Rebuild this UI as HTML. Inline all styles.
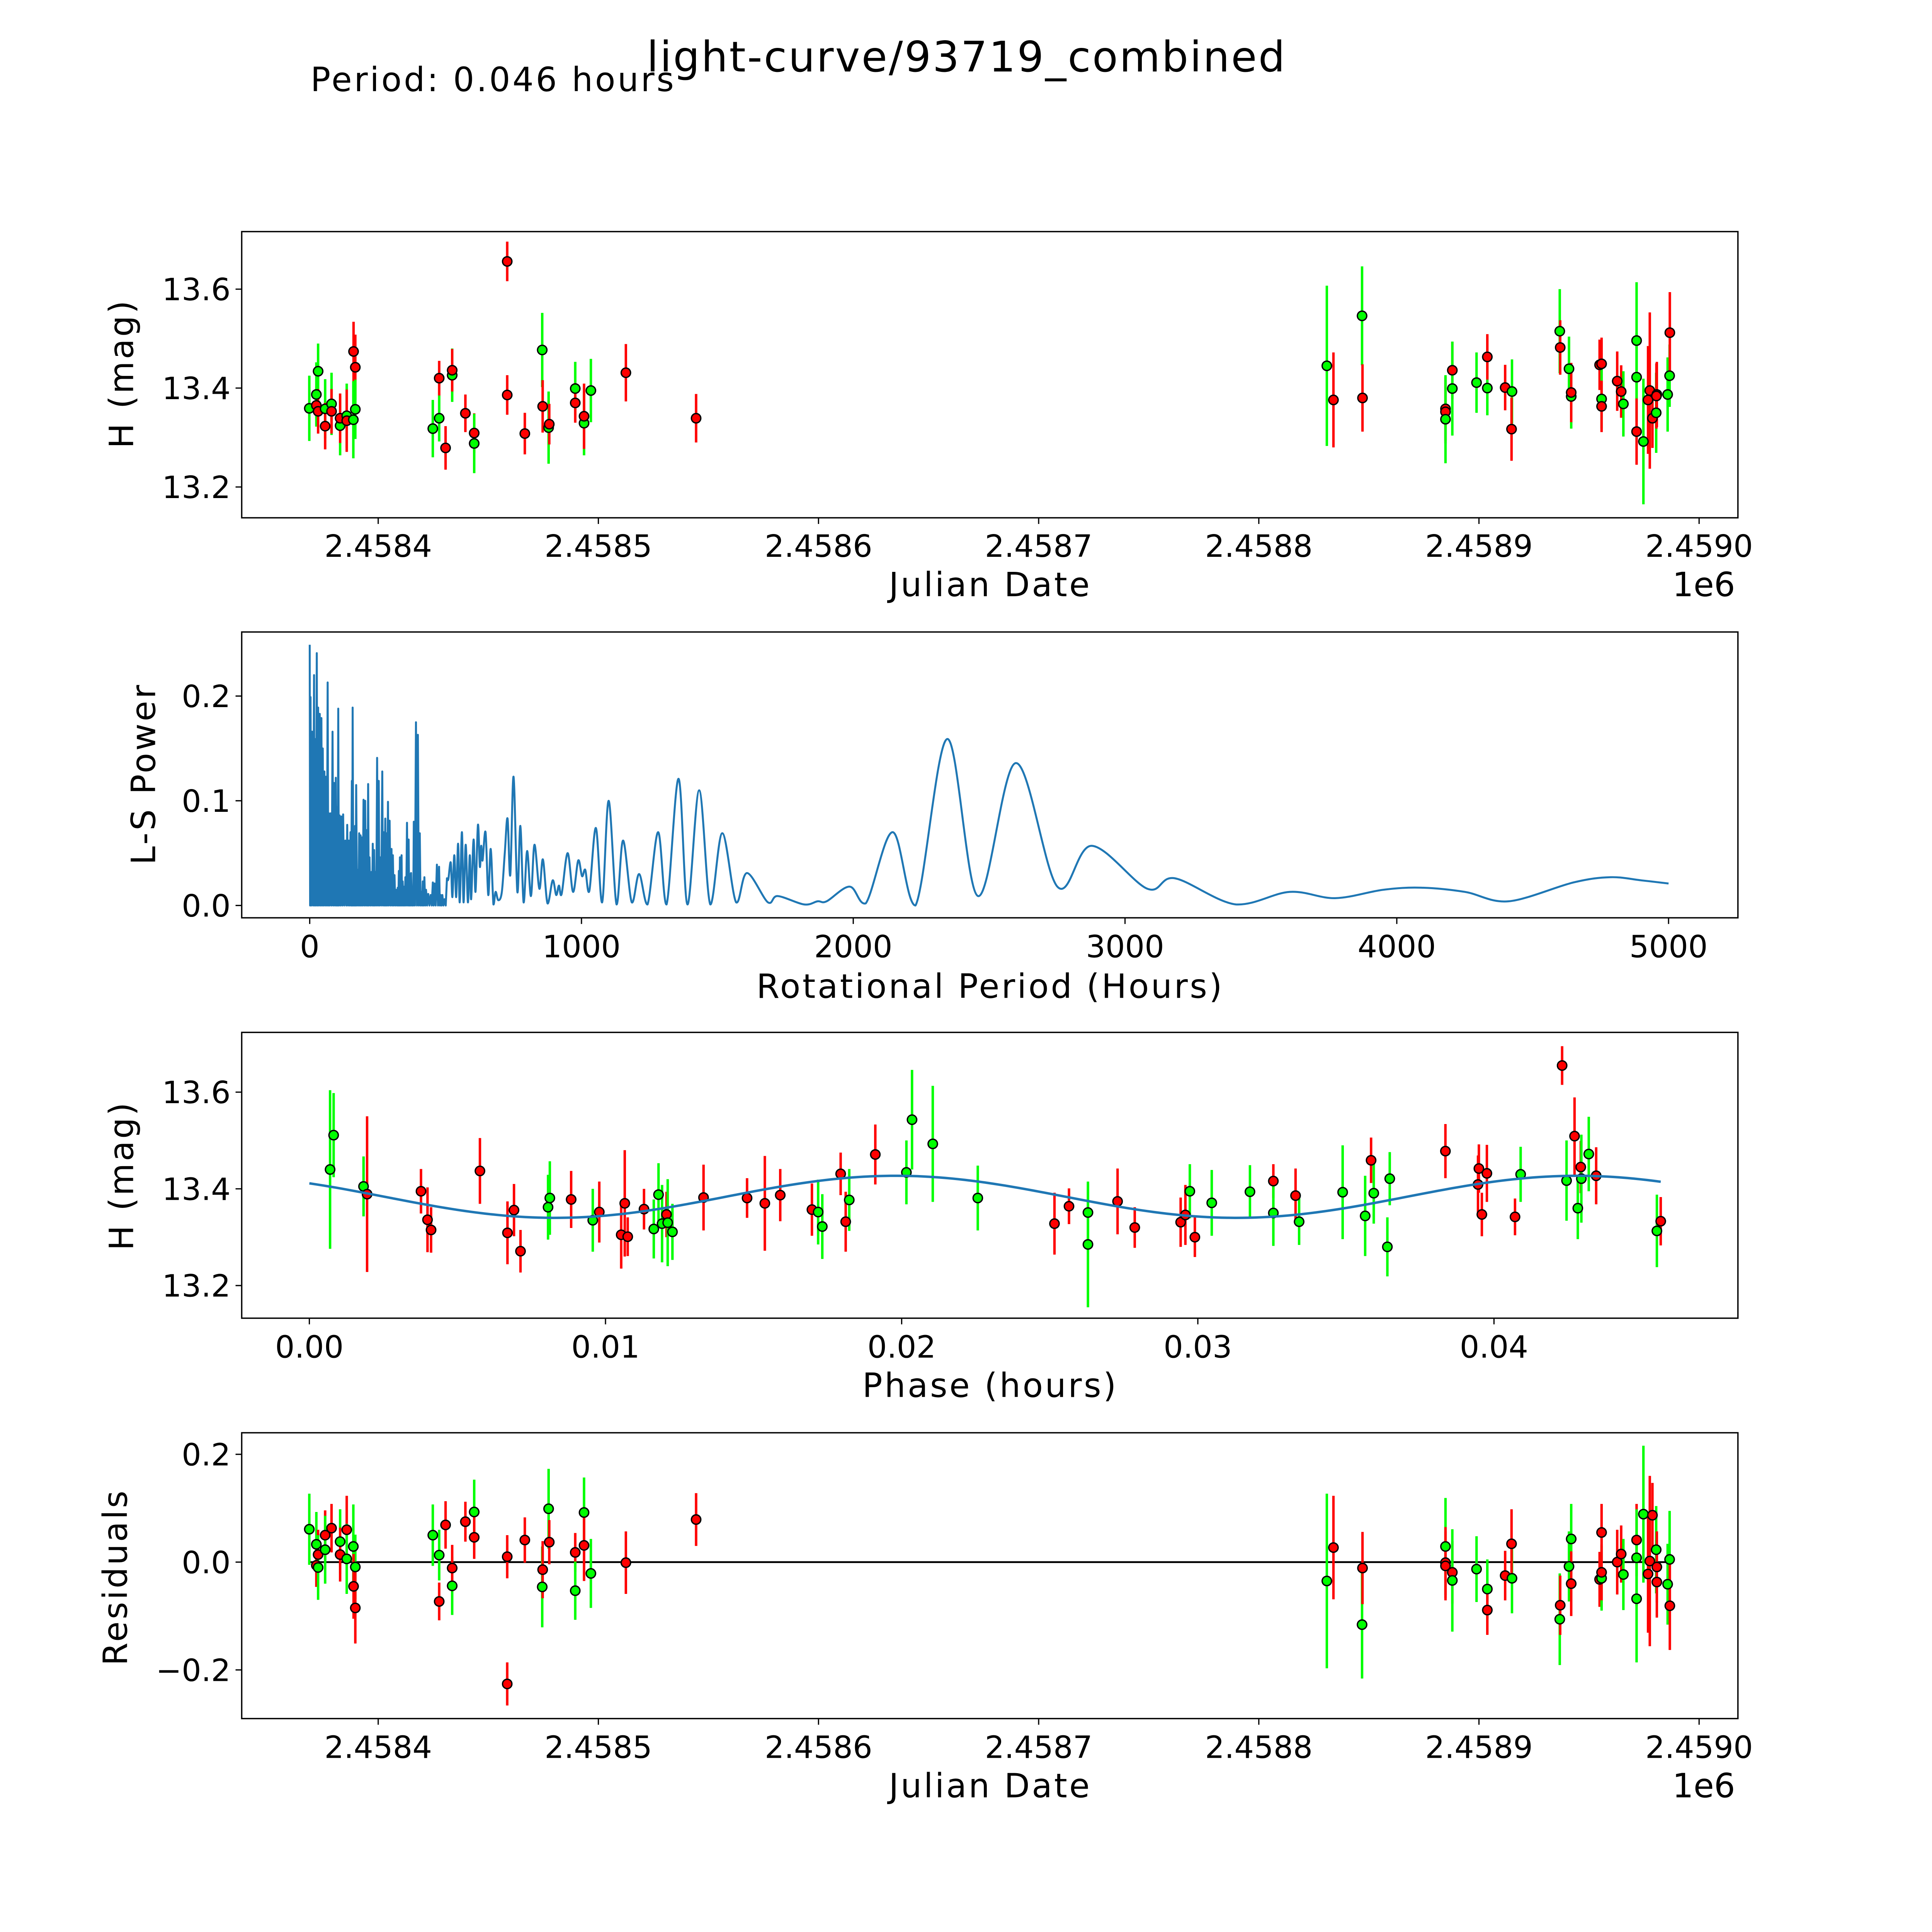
<!DOCTYPE html>
<html><head><meta charset="utf-8"><title>light-curve/93719_combined</title>
<style>html,body{margin:0;padding:0;background:#fff;overflow:hidden;width:5400px;height:5400px;}svg{display:block;overflow:hidden;}text{font-family:"DejaVu Sans","Liberation Sans",sans-serif;fill:#000;}</style>
</head><body>
<svg id="fig" xmlns="http://www.w3.org/2000/svg" width="5400" height="5400" viewBox="0 0 1693.7 1693.7">
<rect x="0" y="0" width="1693.7" height="1693.7" fill="#fff"/>
<text x="784" y="58" font-size="34" text-anchor="middle" textLength="518">light-curve/93719_combined</text>
<text x="252" y="74" font-size="27" textLength="295">Period: 0.046 hours</text>
</svg>
<script>
// ---------- Panel 1: magnitude vs Julian Date (t = JD - 2458400) ----------
const p1T=[-31.3,-28.1,-28.1,-27.3,-27.3,-24.1,-24.1,-21.2,-21.2,-17.3,-17.3,-14.3,-14.3,-11.2,-10.4,-10.4,-11.3,24.8,27.7,27.7,30.6,33.6,33.6,39.6,43.6,43.6,58.6,58.6,66.6,74.5,74.7,77.4,77.7,89.5,89.5,93.5,93.5,96.6,112.5,144.4,
430.9,433.9,446.9,447.1,484.8,484.8,484.8,487.9,487.9,498.9,503.8,503.8,511.9,515.0,514.8,536.7,536.9,540.9,541.9,541.9,554.8,555.7,555.7,555.7,562.8,564.6,565.6,571.6,571.6,571.6,574.7,576.8,577.6,578.8,580.5,580.8,580.6,585.7,586.6,586.7];
const p1Mag=[13.359,13.365,13.387,13.434,13.353,13.358,13.323,13.368,13.353,13.324,13.339,13.344,13.334,13.474,13.442,13.357,13.336,13.318,13.339,13.420,13.279,13.426,13.436,13.349,13.309,13.288,13.656,13.386,13.308,13.477,13.363,13.320,13.327,13.399,13.370,13.329,13.343,13.395,13.431,13.339,
13.445,13.376,13.546,13.380,13.358,13.352,13.337,13.436,13.399,13.411,13.400,13.463,13.401,13.393,13.317,13.515,13.482,13.439,13.383,13.391,13.447,13.449,13.378,13.363,13.414,13.393,13.368,13.496,13.422,13.312,13.292,13.376,13.395,13.339,13.350,13.387,13.384,13.387,13.425,13.512];
const p1Err=[0.066,0.042,0.065,0.056,0.045,0.06,0.047,0.063,0.045,0.06,0.05,0.065,0.063,0.06,0.066,0.06,0.078,0.058,0.047,0.035,0.044,0.054,0.043,0.038,0.04,0.06,0.04,0.04,0.042,0.075,0.053,0.073,0.041,0.054,0.04,0.065,0.066,0.064,0.058,0.049,
0.162,0.096,0.10,0.068,0.064,0.064,0.089,0.058,0.095,0.061,0.055,0.046,0.046,0.065,0.064,0.085,0.055,0.065,0.065,0.06,0.051,0.053,0.06,0.052,0.06,0.053,0.066,0.118,0.09,0.067,0.127,0.109,0.158,0.06,0.081,0.066,0.066,0.075,0.063,0.082];
const p1Col=["g","r","g","g","r","g","r","g","r","g","r","g","r","r","r","g","g","g","g","r","r","g","r","r","r","g","r","r","r","g","r","g","r","g","r","g","r","g","r","r",
"g","r","g","r","r","r","g","r","g","g","g","r","r","g","r","g","r","g","g","r","r","r","g","r","r","r","g","g","g","r","g","r","r","r","g","r","r","g","g","r"];
const jdTicks=[2458400,2458500,2458600,2458700,2458800,2458900,2459000];
const jdTickLabels=["2.4584","2.4585","2.4586","2.4587","2.4588","2.4589","2.4590"];
const magTicks=[13.2,13.4,13.6];
const magTickLabels=["13.2","13.4","13.6"];

// ---------- Panel 2: Lomb-Scargle periodogram ----------
const pgSpikePeriod=[0,3,9,16,20,26,31,37,43,48,54,60,66,71,77,84,90,96,101,105,110,117,123,131,138,144,150,155,158,163,167,171,177,182,187,192,198,204,210,215,220,227,232,237,242,248,254,259,267,272,278,282,288,294,301,306,312,318,324,328,332,338,342,348,352,358,364,368,373,379,383,391,398,405,411,416,422,428,436,445,453,459,468,476,482,488,496];
const pgSpikePower=[0.249,0.199,0.166,0.220,0.159,0.241,0.189,0.183,0.179,0.150,0.128,0.123,0.213,0.088,0.088,0.166,0.117,0.122,0.094,0.188,0.086,0.085,0.087,0.062,0.077,0.062,0.070,0.119,0.189,0.062,0.076,0.115,0.034,0.069,0.067,0.065,0.101,0.100,0.072,0.116,0.046,0.032,0.059,0.053,0.032,0.141,0.119,0.046,0.128,0.070,0.083,0.069,0.099,0.081,0.054,0.048,0.029,0.015,0.017,0.033,0.046,0.048,0.023,0.018,0.027,0.079,0.063,0.030,0.031,0.006,0.080,0.175,0.163,0.069,0.013,0.023,0.027,0.015,0.011,0.010,0.022,0.021,0.039,0.037,0.010,0.010,0.006];
const pgPeriod=[505,510,519,525,532,539,546,552,560,566,574,582,589,594,603,610,619,626,631,636,647,657,666,676,684,694,707,718,728,738,750,764,775,787,800,814,827,845,858,875,894,907,917,927,949,969,988,1002,1014,1029,1053,1076,1100,1129,1153,1185,1212,1243,1282,1313,1357,1390,1433,1474,1518,1569,1609,1686,1722,1819,1869,1902,1987,2046,2145,2229,2346,2459,2598,2751,2877,3082,3183,3408,3606,3773,3950,4089,4250,4411,4650,4787,4900,5000];
const pgPower=[0.026,0.025,0.041,0.008,0.048,0.008,0.059,0.003,0.070,0.003,0.058,0.003,0.048,0.006,0.063,0.013,0.077,0.037,0.057,0.043,0.070,0.010,0.054,0.001,0.013,0.005,0.013,0.051,0.083,0.029,0.123,0.013,0.076,0.003,0.052,0.009,0.058,0.016,0.044,0.002,0.024,0.010,0.019,0.011,0.050,0.013,0.043,0.028,0.034,0.014,0.074,0.003,0.100,0.001,0.062,0.003,0.030,0.001,0.070,0.001,0.121,0.001,0.110,0.001,0.069,0.003,0.031,0.003,0.009,0.001,0.004,0.004,0.018,0.002,0.070,0.000,0.159,0.009,0.136,0.018,0.057,0.016,0.026,0.001,0.013,0.007,0.015,0.017,0.013,0.004,0.022,0.027,0.024,0.021];
const pgXTicks=[0,1000,2000,3000,4000,5000];
const pgYTicks=[0.0,0.1,0.2];
const pgYTickLabels=["0.0","0.1","0.2"];

// ---------- Panel 3: phased light curve ----------
const phPhase=[0.00070,0.00082,0.00183,0.00195,0.00377,0.00399,0.00411,0.00576,0.00669,0.00691,0.00713,0.00806,0.00812,0.00884,0.00957,0.00979,0.01053,0.01065,0.01075,0.01130,0.01163,0.01179,0.01191,0.01206,0.01210,0.01226,0.01331,0.01478,0.01538,0.01590,0.01697,0.01718,0.01732,0.01794,0.01811,0.01823,0.01911,0.02016,0.02035,0.02105,
0.02257,0.02516,0.02565,0.02629,0.02629,0.02729,0.02787,0.02942,0.02958,0.02973,0.02990,0.03047,0.03176,0.03255,0.03255,0.03330,0.03342,0.03489,0.03565,0.03585,0.03594,0.03640,0.03648,0.03836,0.03946,0.03949,0.03959,0.03976,0.04071,0.04090,0.04230,0.04245,0.04272,0.04283,0.04293,0.04295,0.04320,0.04345,0.04550,0.04563];
const phMag=[13.440,13.511,13.405,13.389,13.395,13.336,13.315,13.437,13.309,13.356,13.271,13.362,13.381,13.378,13.335,13.352,13.305,13.370,13.301,13.358,13.317,13.388,13.328,13.347,13.330,13.311,13.382,13.381,13.370,13.387,13.357,13.352,13.322,13.431,13.332,13.377,13.471,13.434,13.543,13.493,
13.381,13.328,13.364,13.351,13.285,13.374,13.320,13.331,13.346,13.395,13.300,13.371,13.394,13.416,13.350,13.386,13.332,13.393,13.344,13.459,13.391,13.280,13.421,13.478,13.409,13.442,13.347,13.432,13.342,13.430,13.655,13.417,13.509,13.360,13.445,13.421,13.472,13.427,13.313,13.333];
const phErr=[0.164,0.087,0.062,0.161,0.046,0.067,0.047,0.068,0.065,0.054,0.044,0.067,0.076,0.059,0.065,0.063,0.07,0.11,0.04,0.042,0.061,0.065,0.08,0.047,0.09,0.058,0.068,0.041,0.098,0.054,0.054,0.067,0.067,0.044,0.062,0.064,0.062,0.066,0.103,0.12,
0.067,0.064,0.037,0.06,0.13,0.068,0.042,0.051,0.062,0.056,0.041,0.068,0.055,0.035,0.068,0.056,0.048,0.097,0.083,0.047,0.063,0.061,0.055,0.056,0.06,0.05,0.045,0.059,0.038,0.057,0.04,0.083,0.08,0.064,0.054,0.091,0.077,0.059,0.075,0.05];
const phCol=["g","g","g","r","r","r","r","r","r","r","r","g","g","r","g","r","r","r","r","r","g","g","g","r","g","g","r","r","r","r","r","g","g","r","r","g","r","g","g","g",
"g","r","r","g","g","r","r","r","r","g","r","g","g","r","g","r","g","g","g","r","g","g","g","r","r","r","r","r","r","g","r","g","r","g","r","g","g","r","g","r"];
const fitMean=[13.3835];
const fitAmp=[0.0435];
const fitPeakPhase=[0.0198];
const fitPeriod=[0.023];
const phTicks=[0.00,0.01,0.02,0.03,0.04];
const phTickLabels=["0.00","0.01","0.02","0.03","0.04"];

// ---------- Panel 4: residuals vs Julian Date ----------
const resT=[-31.3,-28.1,-28.1,-27.3,-27.3,-24.1,-24.1,-21.2,-17.3,-17.3,-14.3,-14.3,-11.3,-10.4,-11.2,-10.4,24.8,27.7,27.7,30.6,33.6,33.6,39.6,43.6,43.6,58.6,58.6,66.6,77.4,77.7,74.5,74.7,89.5,89.5,93.5,93.5,96.6,112.5,144.4,
430.9,433.9,446.9,447.1,484.8,484.8,484.8,487.9,487.9,498.9,503.8,503.8,511.9,515.0,514.8,536.7,536.9,540.9,541.9,541.9,554.8,555.7,555.7,555.7,562.8,564.6,565.6,571.6,571.6,571.6,574.7,576.8,577.6,578.8,580.5,580.8,580.8,585.7,586.6,586.7];
const resVal=[0.061,0.033,-0.006,0.014,-0.010,0.050,0.023,0.063,0.038,0.014,0.060,0.006,0.029,-0.009,-0.045,-0.085,0.050,0.013,-0.073,0.069,-0.044,-0.011,0.075,0.093,0.046,-0.226,0.010,0.041,0.099,0.037,-0.046,-0.014,0.018,-0.053,0.092,0.031,-0.021,-0.001,0.079,
-0.035,0.027,-0.116,-0.011,0.029,-0.001,-0.007,-0.019,-0.034,-0.013,-0.050,-0.089,-0.025,-0.030,0.034,-0.106,-0.080,-0.008,0.043,-0.040,-0.032,0.055,-0.030,-0.019,0.000,0.015,-0.023,0.041,0.008,-0.068,0.089,-0.022,0.002,0.087,0.023,-0.009,-0.037,-0.041,0.005,-0.081];
const resErr=[0.066,0.06,0.04,0.046,0.06,0.046,0.063,0.045,0.06,0.05,0.063,0.065,0.078,0.06,0.06,0.066,0.057,0.047,0.035,0.044,0.054,0.043,0.037,0.06,0.04,0.04,0.04,0.042,0.074,0.041,0.075,0.053,0.036,0.054,0.065,0.066,0.064,0.058,0.049,
0.162,0.096,0.10,0.067,0.09,0.066,0.064,0.058,0.095,0.061,0.055,0.046,0.046,0.065,0.064,0.085,0.055,0.065,0.065,0.06,0.051,0.053,0.06,0.052,0.06,0.053,0.066,0.067,0.09,0.118,0.127,0.109,0.158,0.06,0.081,0.066,0.066,0.075,0.09,0.082];
const resCol=["g","g","r","r","g","r","g","r","g","r","r","g","g","g","r","r","g","g","r","r","g","r","r","g","r","r","r","r","g","r","g","r","r","g","g","r","g","r","r",
"g","r","g","r","g","r","r","r","g","g","g","r","r","g","r","g","r","g","g","r","r","r","g","r","r","r","g","r","g","g","g","r","r","r","g","r","r","g","g","r"];
const resTicks=[-0.2,0.0,0.2];
const resTickLabels=["\u22120.2","0.0","0.2"];

// ---------- layout ----------
const NS="http://www.w3.org/2000/svg";
const svg=document.getElementById("fig");
const AX_L=196.2, AX_R=1410.7;
const COLORS={r:"#ff0000",g:"#00ff00"};
function el(tag,attrs,parent){const e=document.createElementNS(NS,tag);for(const k in attrs)e.setAttribute(k,attrs[k]);(parent||svg).appendChild(e);return e;}
const xJD=t=>307.0+t*1.787;
const y1=m=>315.0-(m-13.4)*401.5;
const xP=p=>251.4+p*0.2206;
const y2=v=>735.0-v*850;
const xPh=ph=>251.1+ph*24040;
const y3=m=>965.0-(m-13.4)*392.5;
const y4=r=>1268.0-r*437.5;

function frame(name,top,bottom){
  const g=el("g",{});
  
  
  const r=el("rect",{x:AX_L,y:top,width:AX_R-AX_L,height:bottom-top,fill:"none",stroke:"#000","stroke-width":1.1},g);
  
  
  return g;
}
function xTicks(g,vals,labels,fx,bottom,labelY){
  vals.forEach((v,i)=>{
    const x=fx(v);
    const t=el("line",{x1:x,x2:x,y1:bottom,y2:bottom+5,stroke:"#000","stroke-width":1},g);
    
    
    const tx=el("text",{x:x,y:labelY,"font-size":25,"text-anchor":"middle"},g);
    tx.textContent=labels[i];
    
    
  });
}
function yTicks(g,vals,labels,fy){
  vals.forEach((v,i)=>{
    const y=fy(v);
    const t=el("line",{x1:AX_L-5,x2:AX_L,y1:y,y2:y,stroke:"#000","stroke-width":1},g);
    
    
    const tx=el("text",{x:AX_L-9,y:y+9,"font-size":25,"text-anchor":"end"},g);
    tx.textContent=labels[i];
    
    
  });
}
function label(g,txt,x,y,rot,len,name){
  const a={x:x,y:y,"font-size":27,"text-anchor":"middle"};
  if(rot)a.transform="rotate(-90 "+x+" "+y+")";
  if(len)a.textLength=len;
  const t=el("text",a,g);
  t.textContent=txt;
  
  
}
function errPoints(g,xs,ys,es,cs,fx,fy){
  const gb=el("g",{},g);
  
  
  const gm=el("g",{},g);
  
  
  xs.forEach((xv,i)=>{
    const x=fx(xv), c=COLORS[cs[i]];
    const l=el("line",{x1:x,x2:x,y1:fy(ys[i]-es[i]),y2:fy(ys[i]+es[i]),stroke:c,"stroke-width":2},gb);
    
    
    const m=el("circle",{cx:x,cy:fy(ys[i]),r:3.8,fill:c,stroke:"#000","stroke-width":1.1},gm);
    
    
  });
}

// Panel 1
const g1=frame("magnitude-vs-date-panel",188,420.3);
errPoints(g1,p1T,p1Mag,p1Err,p1Col,xJD,y1);
xTicks(g1,jdTicks,jdTickLabels,v=>xJD(v-2458400),420.3,452);
yTicks(g1,magTicks,magTickLabels,y1);
label(g1,"Julian Date",803,484,false,163,"x-axis-title");
label(g1,"1e6",1383,484,false,0,"x-axis-offset");
label(g1,"H (mag)",108,304,true,120,"y-axis-title");

// Panel 2
const g2=frame("periodogram-panel",513,745);
let pts=[];
pgSpikePeriod.forEach((p,i)=>{
  pts.push([xP(p),y2(pgSpikePower[i])]);
  const nxt=i<pgSpikePeriod.length-1?pgSpikePeriod[i+1]:pgPeriod[0];
  pts.push([xP((p+nxt)/2),y2(0)]);
});
let d="M"+pts.map(q=>q[0].toFixed(2)+","+q[1].toFixed(2)).join(" L");
const sm=pgPeriod.map((p,i)=>[xP(p),y2(pgPower[i])]);
d+=" L"+sm[0][0].toFixed(2)+","+sm[0][1].toFixed(2);
for(let i=0;i<sm.length-1;i++){
  const p0=sm[Math.max(0,i-1)],p1=sm[i],p2=sm[i+1],p3=sm[Math.min(sm.length-1,i+2)];
  const c1=[p1[0]+(p2[0]-p0[0])/6,p1[1]+(p2[1]-p0[1])/6];
  const c2=[p2[0]-(p3[0]-p1[0])/6,p2[1]-(p3[1]-p1[1])/6];
  c1[1]=Math.min(c1[1],y2(0));c2[1]=Math.min(c2[1],y2(0));
  d+=" C"+c1[0].toFixed(2)+","+c1[1].toFixed(2)+" "+c2[0].toFixed(2)+","+c2[1].toFixed(2)+" "+p2[0].toFixed(2)+","+p2[1].toFixed(2);
}
const pg=el("path",{d:d,fill:"none",stroke:"#1f77b4","stroke-width":1.6,"stroke-linejoin":"round"},g2);


xTicks(g2,pgXTicks,pgXTicks.map(String),xP,745,777);
yTicks(g2,pgYTicks,pgYTickLabels,y2);
label(g2,"Rotational Period (Hours)",803,810,false,378,"x-axis-title");
label(g2,"L-S Power",126,629,true,146,"y-axis-title");

// Panel 3
const g3=frame("phased-light-curve-panel",838,1070);
errPoints(g3,phPhase,phMag,phErr,phCol,xPh,y3);
let fd="";
const n=200, phMax=phPhase[phPhase.length-1];
for(let k=0;k<=n;k++){
  const ph=phMax*k/n;
  const m=fitMean[0]+fitAmp[0]*Math.cos(2*Math.PI*(ph-fitPeakPhase[0])/fitPeriod[0]);
  fd+=(k?" L":"M")+xPh(ph).toFixed(2)+","+y3(m).toFixed(2);
}
const fit=el("path",{d:fd,fill:"none",stroke:"#1f77b4","stroke-width":2},g3);


xTicks(g3,phTicks,phTickLabels,xPh,1070,1102);
yTicks(g3,magTicks,magTickLabels,y3);
label(g3,"Phase (hours)",803,1134,false,206,"x-axis-title");
label(g3,"H (mag)",108,955,true,120,"y-axis-title");

// Panel 4
const g4=frame("residuals-panel",1163,1395);
const tmin=Math.min(...resT), tmax=Math.max(...resT);
const zl=el("line",{x1:xJD(tmin),x2:xJD(tmax),y1:y4(0),y2:y4(0),stroke:"#000","stroke-width":1.5},g4);


errPoints(g4,resT,resVal,resErr,resCol,xJD,y4);
xTicks(g4,jdTicks,jdTickLabels,v=>xJD(v-2458400),1395,1427);
yTicks(g4,resTicks,resTickLabels,y4);
label(g4,"Julian Date",803,1459,false,163,"x-axis-title");
label(g4,"1e6",1383,1459,false,0,"x-axis-offset");
label(g4,"Residuals",103,1281,true,142,"y-axis-title");
</script>
</body></html>
